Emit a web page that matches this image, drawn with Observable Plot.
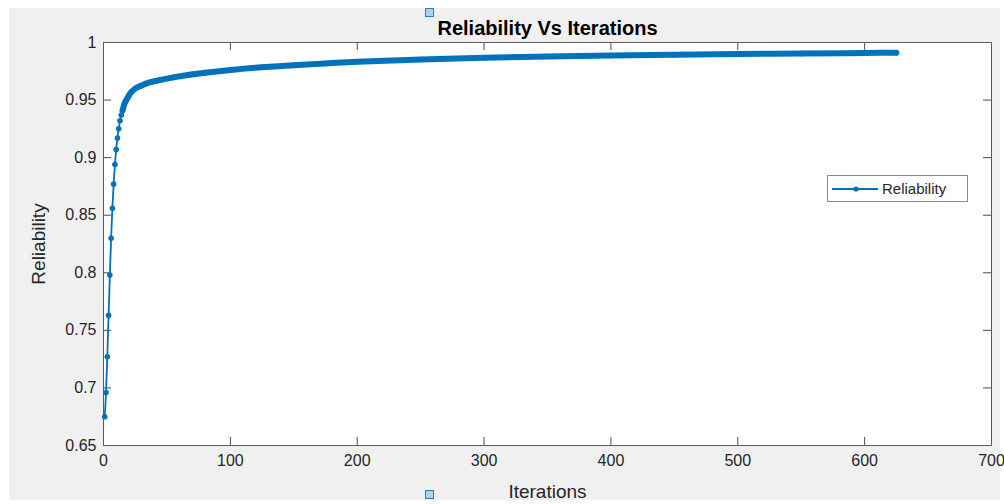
<!DOCTYPE html>
<html>
<head>
<meta charset="utf-8">
<script src="https://cdn.jsdelivr.net/npm/d3@7"></script>
<script src="https://cdn.jsdelivr.net/npm/@observablehq/plot@0.6"></script>
<style>
  html, body { margin: 0; padding: 0; background: #ffffff; }
  #page { position: relative; width: 1004px; height: 504px; overflow: hidden; }
  #figbg { position: absolute; left: 9px; top: 8px; width: 991px; height: 492px; background: #f0f0f0; }
  #chart { position: absolute; left: 0; top: 0; }
  .handle { position: absolute; width: 7px; height: 7px; background: #a9d3f0; border: 1px solid #2a7fc4; }
  #legend { position: absolute; left: 827px; top: 175px; width: 139px; height: 25px; background: #fff;
            border: 1px solid #8a8a8a; font-family: "Liberation Sans", Arial, sans-serif; font-size: 15px; color: #262626; }
  #legend svg { position: absolute; left: 4px; top: 6px; }
  #legend span { position: absolute; left: 54px; top: 4px; }
</style>
</head>
<body>
<div id="page">
  <div id="figbg"></div>
  <div id="chart"></div>
  <div id="legend"><svg width="48" height="14"><line x1="0" y1="7" x2="46" y2="7" stroke="#0072BD" stroke-width="1.8"/><circle cx="24" cy="7" r="2.6" fill="#0072BD"/></svg><span>Reliability</span></div>
  <div class="handle" style="left:425px;top:8px"></div>
  <div class="handle" style="left:425px;top:490px"></div>
</div>
<script>
// Data
const iterations = [1,2,3,4,5,6,7,8,9,10,11,12,13,14,15,16,17,18,19,20,22,25,30,37,45,55,69,80,100,125,150,175,200,250,300,350,400,450,500,550,600,625];
const reliability = [0.675,0.696,0.727,0.763,0.798,0.830,0.856,0.877,0.894,0.907,0.917,0.925,0.932,0.937,0.941,0.945,0.948,0.950,0.952,0.954,0.957,0.960,0.9627,0.9655,0.9675,0.9697,0.9722,0.9738,0.9762,0.9785,0.9803,0.9818,0.9832,0.9853,0.9867,0.9878,0.9887,0.9894,0.9900,0.9905,0.9909,0.9911];
const xTicks = [0,100,200,300,400,500,600,700];
const yTicks = [0.65,0.7,0.75,0.8,0.85,0.9,0.95,1];
const yTickLabels = ["0.65","0.7","0.75","0.8","0.85","0.9","0.95","1"];
const title = "Reliability Vs Iterations";
const xLabel = "Iterations";
const yLabel = "Reliability";

const data = iterations.map((it, i) => ({it, r: reliability[i]}));
const dense = data.filter(d => d.it >= 15);

const blue = "#0072BD";
const axisColor = "#262626";
const font = "Liberation Sans, Arial, sans-serif";
const tickLen = 8;
const W = 1004, H = 504, mL = 103, mR = 13, mT = 42, mB = 59;
const plotH = H - mT - mB, plotW = W - mL - mR;

const chart = Plot.plot({
  width: W, height: H,
  marginLeft: mL, marginRight: mR, marginTop: mT, marginBottom: mB,
  style: {background: "transparent", fontFamily: font, color: axisColor, overflow: "visible"},
  x: {domain: [0, 700], ticks: xTicks},
  y: {domain: [0.65, 1], ticks: yTicks},
  marks: [
    Plot.frame({fill: "white", stroke: "none"}),
    Plot.axisX(xTicks, {tickSize: 0, tickPadding: 9, fontSize: 16, label: null, fill: axisColor}),
    Plot.axisY(yTicks, {tickSize: 0, tickPadding: 7, fontSize: 16, label: null, fill: axisColor,
      tickFormat: d => yTickLabels[yTicks.indexOf(d)]}),
    // inward ticks on all four sides
    Plot.ruleX(xTicks, {insetTop: plotH - tickLen, stroke: "#4d4d4d", strokeWidth: 1}),
    Plot.ruleX(xTicks, {insetBottom: plotH - tickLen, stroke: "#4d4d4d", strokeWidth: 1}),
    Plot.ruleY(yTicks, {insetRight: plotW - tickLen, stroke: "#4d4d4d", strokeWidth: 1}),
    Plot.ruleY(yTicks, {insetLeft: plotW - tickLen, stroke: "#4d4d4d", strokeWidth: 1}),
    Plot.frame({stroke: "#5a5a5a", strokeWidth: 1}),
    // series
    Plot.line(data, {x: "it", y: "r", stroke: blue, strokeWidth: 1.8, curve: "monotone-x"}),
    Plot.line(dense, {x: "it", y: "r", stroke: blue, strokeWidth: 6, strokeLinecap: "round", curve: "monotone-x"}),
    Plot.dot(data, {x: "it", y: "r", r: 2.8, fill: blue, stroke: "none"}),
    // texts
    Plot.text([title], {frameAnchor: "top", lineAnchor: "bottom", textAnchor: "middle", dy: -8, fontSize: 20, fontWeight: "bold", fill: "#000"}),
    Plot.text([xLabel], {frameAnchor: "bottom", lineAnchor: "middle", textAnchor: "middle", dy: 46, fontSize: 19, fill: axisColor}),
    Plot.text([yLabel], {frameAnchor: "left", lineAnchor: "middle", textAnchor: "middle", dx: -65, rotate: -90, fontSize: 19, fill: axisColor})
  ]
});
document.getElementById("chart").appendChild(chart);
</script>
</body>
</html>
